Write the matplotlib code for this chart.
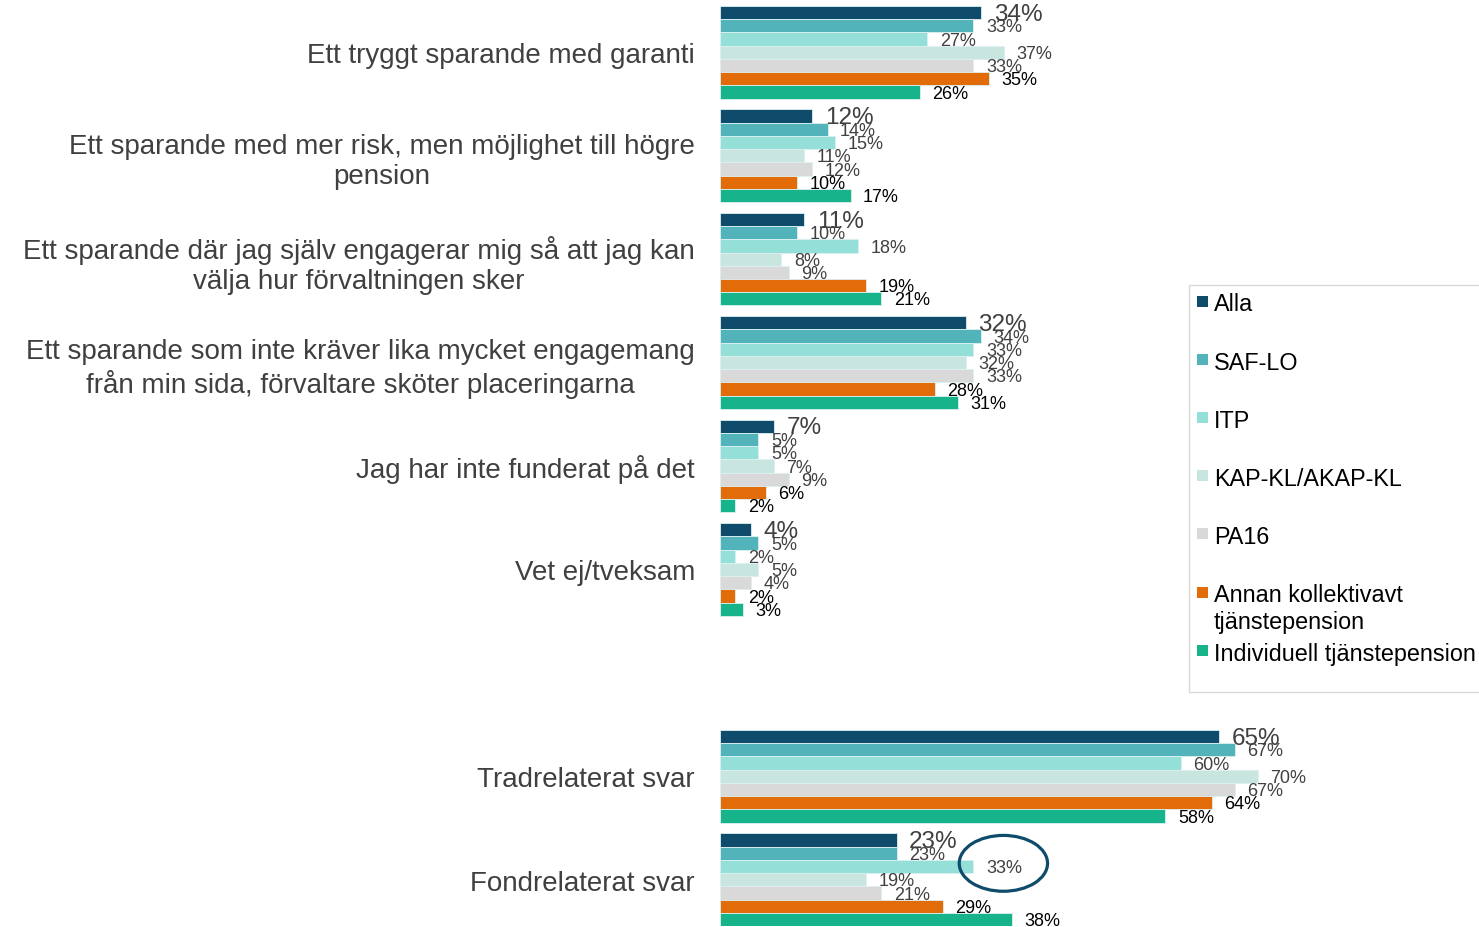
import matplotlib
matplotlib.use('Agg')
import matplotlib.pyplot as plt
from matplotlib.patches import Rectangle, Ellipse

plt.rcParams['font.family'] = ['Liberation Sans', 'DejaVu Sans']

categories = [
    'Ett tryggt sparande med garanti',
    'Ett sparande med mer risk, men möjlighet till högre\npension',
    'Ett sparande där jag själv engagerar mig så att jag kan\nvälja hur förvaltningen sker',
    'Ett sparande som inte kräver lika mycket engagemang\nfrån min sida, förvaltare sköter placeringarna',
    'Jag har inte funderat på det',
    'Vet ej/tveksam',
    'Tradrelaterat svar',
    'Fondrelaterat svar',
]
series = ['Alla', 'SAF-LO', 'ITP', 'KAP-KL/AKAP-KL', 'PA16',
          'Annan kollektivavt\ntjänstepension', 'Individuell tjänstepension']

alla = [34, 12, 11, 32, 7, 4, 65, 23]
saf_lo = [33, 14, 10, 34, 5, 5, 67, 23]
itp = [27, 15, 18, 33, 5, 2, 60, 33]
kap_kl = [37, 11, 8, 32, 7, 5, 70, 19]
pa16 = [33, 12, 9, 33, 9, 4, 67, 21]
annan = [35, 10, 19, 28, 6, 2, 64, 29]
individuell = [26, 17, 21, 31, 2, 3, 58, 38]
values = [alla, saf_lo, itp, kap_kl, pa16, annan, individuell]

colors = ['#0F4C6B', '#52B3BA', '#94DFD7', '#C9E5E0', '#D9D9D9', '#E36C0A', '#17B38A']
label_colors = ['#404040'] * 5 + ['#000000'] * 2
label_sizes = [17.5, 13, 13, 13, 13, 13, 13]

# group centres (one empty slot before the summary groups)
group_pos = [0, 1, 2, 3, 4, 5, 7, 8]
bar_h = 0.128

W, H = 1479, 928
fig = plt.figure(figsize=(W / 100, H / 100), dpi=100)
ax = fig.add_axes([720 / W, 1 / H, 768 / W, 920 / H])

for j, (vals, c) in enumerate(zip(values, colors)):
    ys = [g + (j - 3) * bar_h for g in group_pos]
    ax.barh(ys, vals, height=bar_h, color=c, edgecolor='#DDF0F0', linewidth=0.6)
    for y, v in zip(ys, vals):
        ax.annotate(f'{v}%', (v, y), xytext=(9, -0.8), textcoords='offset points',
                    ha='left', va='center', fontsize=label_sizes[j], color=label_colors[j])

ax.set_xlim(0, 100)
ax.set_ylim(group_pos[-1] + 3.5 * bar_h, group_pos[0] - 3.5 * bar_h)
ax.set_yticks(group_pos)
ax.set_yticklabels(categories, fontsize=20, color='#404040')
for t in ax.get_yticklabels():
    t.set_multialignment('center')
ax.tick_params(axis='y', length=0, pad=18)
ax.set_xticks([])
for s in ax.spines.values():
    s.set_visible(False)

# highlight circle round ITP / Fondrelaterat svar
g = group_pos[7] + (2 - 3) * bar_h
ax.add_patch(Ellipse((itp[7] + 3.9, g - 0.03), 11.5, 0.54, fill=False,
                     edgecolor='#0F4C6B', linewidth=2.3, clip_on=False))

# legend drawn by hand to follow the original layout
fig.add_artist(Rectangle((1189 / W, 1 - 693 / H), 320 / W, 407 / H, transform=fig.transFigure,
                         fill=False, edgecolor='#D9D9D9', linewidth=1))
leg_size = 16.8
em = leg_size * 100 / 72
for i, (name, c) in enumerate(zip(series, colors)):
    yc = 302 + 58.2 * i
    fig.add_artist(Rectangle((1197 / W, 1 - (yc + 5.5) / H), 11 / W, 11 / H,
                             transform=fig.transFigure, facecolor=c, edgecolor='none'))
    fig.text(1214 / W, 1 - (yc - 0.372 * em) / H, name, fontsize=leg_size, color='#000000',
             ha='left', va='top', linespacing=1.2)

plt.savefig('out.png', dpi=100)
